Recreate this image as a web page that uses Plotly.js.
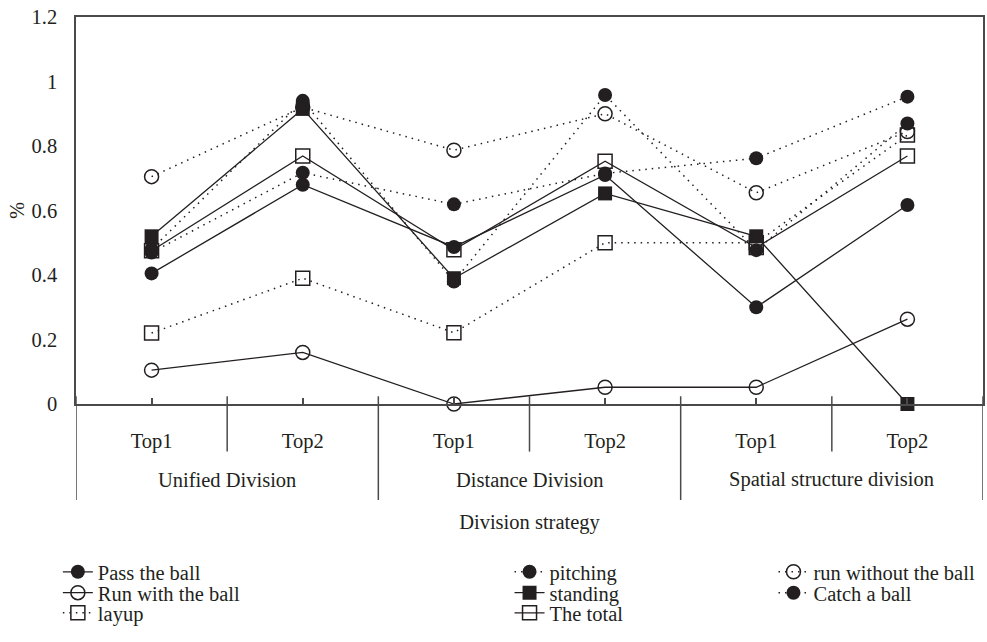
<!DOCTYPE html>
<html>
<head>
<meta charset="utf-8">
<script src="https://cdn.plot.ly/plotly-3.0.1.min.js"></script>
<style>
  html, body { margin: 0; padding: 0; background: #ffffff; }
  #chart { width: 987px; height: 642px; }
</style>
</head>
<body>
<div id="chart"></div>
<script>
// ---- Data ----
const groups = ["Unified Division", "Unified Division", "Distance Division", "Distance Division",
                "Spatial structure division", "Spatial structure division"];
const subs = ["Top1", "Top2", "Top1", "Top2", "Top1", "Top2"];

const passTheBall      = [0.405, 0.680, 0.487, 0.710, 0.300, 0.617];
const runWithTheBall   = [0.105, 0.160, 0.000, 0.052, 0.052, 0.263];
const layup            = [0.220, 0.390, 0.221, 0.500, 0.500, 0.834];
const pitching         = [0.470, 0.717, 0.619, 0.715, 0.762, 0.953];
const standing         = [0.520, 0.915, 0.390, 0.653, 0.520, 0.000];
const theTotal         = [0.475, 0.769, 0.478, 0.753, 0.485, 0.769];
const runWithoutTheBall= [0.705, 0.920, 0.787, 0.900, 0.655, 0.845];
const catchABall       = [0.480, 0.940, 0.380, 0.958, 0.477, 0.870];

const yTickVals = [0, 0.2, 0.4, 0.6, 0.8, 1, 1.2];
const yTickText = ["0", "0.2", "0.4", "0.6", "0.8", "1", "1.2"];

// ---- Styling ----
const INK = "#231f20";
const AXIS = "#4a4a4a";
const FONT = "Liberation Serif, Times New Roman, serif";
const FS = 20.5;
const DOTTED = "1.5px,5px";

const keys = groups.map((g, i) => g + "|" + subs[i]);

function series(name, values, symbol, dashed, legendId) {
  const open = symbol.indexOf("open") >= 0;
  return {
    type: "scatter",
    mode: "lines+markers",
    name: name,
    x: keys,
    y: values,
    legend: legendId,
    cliponaxis: false,
    line: { color: INK, width: dashed ? 1.5 : 1.3, dash: dashed ? DOTTED : "solid" },
    marker: {
      symbol: symbol,
      size: 14,
      color: INK,
      line: { color: INK, width: open ? 1.5 : 0 }
    }
  };
}

const traces = [
  series("layup", layup, "square-open", true, "legend3"),
  series("run without the ball", runWithoutTheBall, "circle-open", true, "legend7"),
  series("Run with the ball", runWithTheBall, "circle-open", false, "legend2"),
  series("The total", theTotal, "square-open", false, "legend6"),
  series("pitching", pitching, "circle", true, "legend4"),
  series("Catch a ball", catchABall, "circle", true, "legend8"),
  series("Pass the ball", passTheBall, "circle", false, "legend"),
  series("standing", standing, "square", false, "legend5")
];

// ---- Category dividers (derived from the group structure) ----
const shapes = [];
const grpBounds = [-0.5];
const subBounds = [];
for (let i = 1; i < groups.length; i++) {
  if (groups[i] !== groups[i - 1]) grpBounds.push(i - 0.5);
  else subBounds.push(i - 0.5);
}
grpBounds.push(groups.length - 0.5);
grpBounds.forEach(b => shapes.push({
  type: "line", xref: "x", yref: "paper", x0: b, x1: b, y0: 0.02, y1: -0.248,
  line: { color: AXIS, width: 1.5 }
}));
subBounds.forEach(b => shapes.push({
  type: "line", xref: "x", yref: "paper", x0: b, x1: b, y0: 0.02, y1: -0.123,
  line: { color: AXIS, width: 1.5 }
}));

// Group labels
const annotations = [];
const uniqGroups = [...new Set(groups)];
uniqGroups.forEach(g => {
  const idx = groups.map((v, i) => v === g ? i : -1).filter(i => i >= 0);
  const mid = (idx[0] + idx[idx.length - 1]) / 2;
  annotations.push({
    text: g, xref: "x", yref: "paper", x: mid, y: -0.196,
    xanchor: "center", yanchor: "middle", showarrow: false,
    font: { family: FONT, size: FS, color: INK }
  });
});

// ---- Legends ----
function leg(x, y) {
  return {
    x: x, y: y, xref: "paper", yref: "paper", xanchor: "left", yanchor: "middle",
    bgcolor: "rgba(0,0,0,0)", borderwidth: 0, itemsizing: "trace",
    font: { family: FONT, size: FS, color: INK }
  };
}
const c1 = -0.020, c2 = 0.478, c3 = 0.769;
const r1 = -0.434, r2 = -0.488, r3 = -0.540;

const layout = {
  width: 987, height: 642,
  margin: { l: 76, r: 4, t: 17, b: 238 },
  paper_bgcolor: "#ffffff", plot_bgcolor: "#ffffff",
  font: { family: FONT, size: FS, color: INK },
  showlegend: true,
  legend: leg(c1, r1),
  legend2: leg(c1, r2),
  legend3: leg(c1, r3),
  legend4: leg(c2, r1),
  legend5: leg(c2, r2),
  legend6: leg(c2, r3),
  legend7: leg(c3, r1),
  legend8: leg(c3, r2),
  xaxis: {
    type: "category",
    categoryorder: "array", categoryarray: keys,
    tickvals: keys, ticktext: subs,
    range: [-0.5, groups.length - 0.5],
    ticks: "inside", ticklen: 6, tickwidth: 1.5, tickcolor: AXIS,
    showline: true, linecolor: AXIS, linewidth: 1.5, mirror: true,
    showgrid: false, zeroline: false,
    ticklabelstandoff: 18,
    tickfont: { family: FONT, size: FS, color: INK },
    title: { text: "Division strategy", standoff: 62, font: { family: FONT, size: FS, color: INK } }
  },
  yaxis: {
    range: [0, 1.2],
    tickvals: yTickVals, ticktext: yTickText,
    ticks: "", showline: true, linecolor: AXIS, linewidth: 1.5, mirror: true,
    showgrid: false, zeroline: false,
    ticklabelstandoff: 13,
    tickfont: { family: FONT, size: FS, color: INK },
    title: { text: "%", standoff: 1, font: { family: FONT, size: FS, color: INK } }
  },
  shapes: shapes,
  annotations: annotations
};

Plotly.newPlot("chart", traces, layout, { displayModeBar: false, responsive: false });
</script>
</body>
</html>
